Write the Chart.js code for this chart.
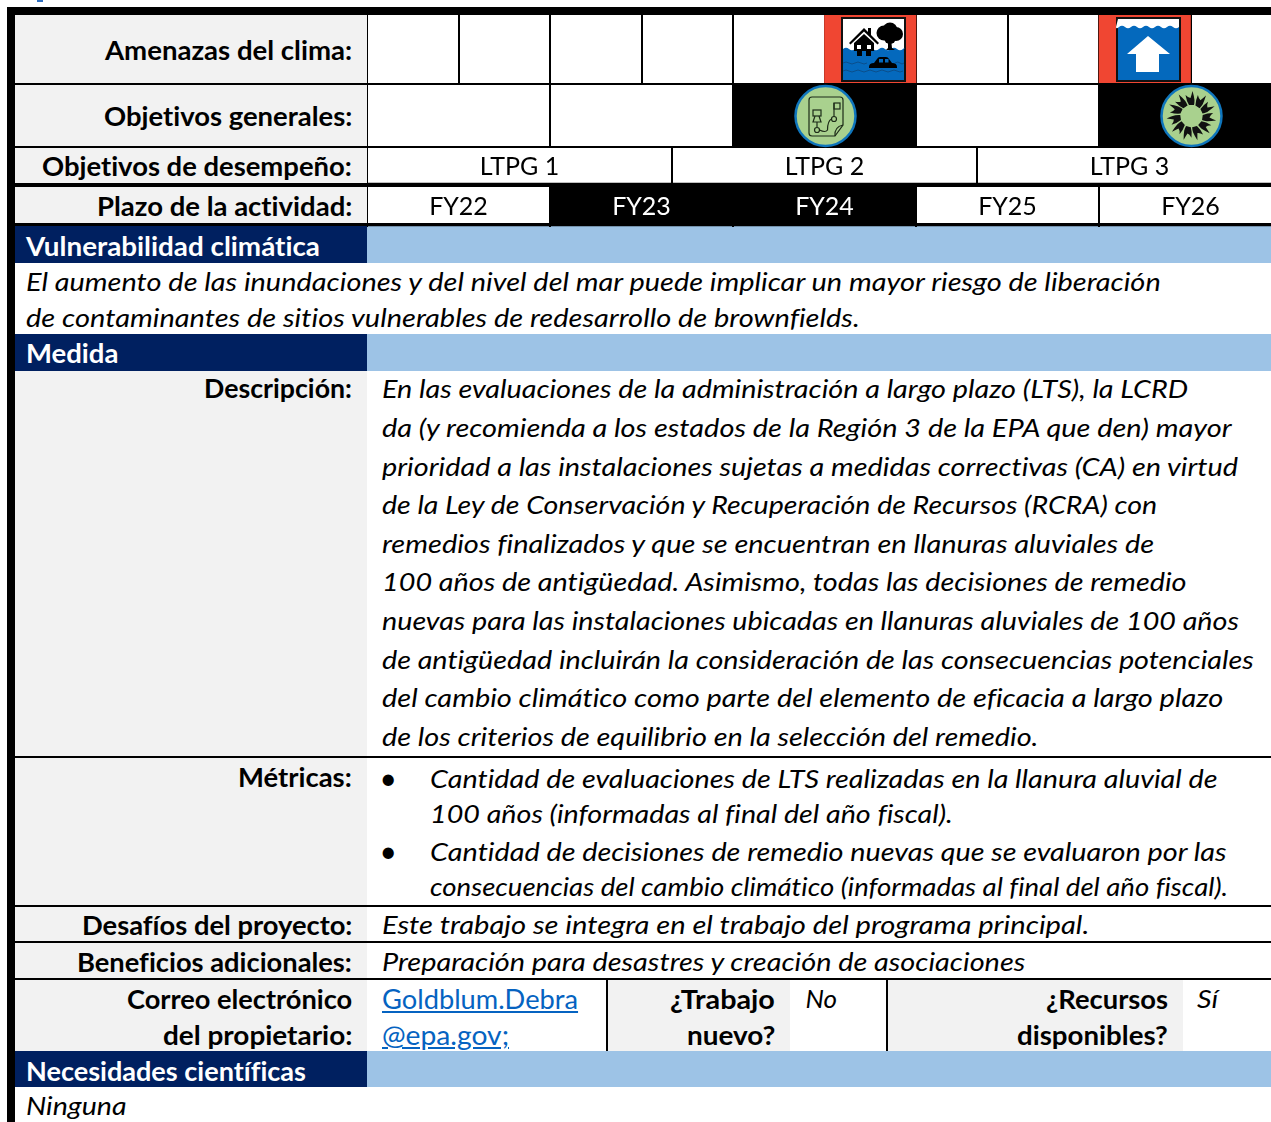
<!DOCTYPE html>
<html lang="es">
<head>
<meta charset="utf-8">
<title>Medida climática</title>
<script src="https://cdn.jsdelivr.net/npm/chart.js@4"></script>
<style>
html, body { margin: 0; padding: 0; background: #fff; }
body { position: relative; width: 1271px; height: 1122px; overflow: hidden; font-family: Lato, sans-serif; color: #000; font-variant-ligatures: none; }
.box { position: absolute; }
.k { background: #000; }
.g { background: #f2f2f2; }
.n { background: #002060; }
.s { background: #9dc3e6; }
canvas { position: absolute; left: 367px; }
.t { position: absolute; white-space: nowrap; font-size: 26px; line-height: 1; transform-origin: left center; margin-left: -0.5px; }
.b { font-weight: 700; }
.i { font-style: italic; }
.w { color: #fff; }
a { color: #0563c1; text-decoration: underline; }
svg { position: absolute; }
</style>
</head>
<body>
<div class="box" style="left:37px;top:0;width:6px;height:2px;background:#2f6fc0"></div>

<!-- label column -->
<div class="box g" style="left:15px;top:14px;width:352px;height:212px"></div>
<div class="box g" style="left:15px;top:371px;width:352px;height:680px"></div>
<div class="box g" style="left:607px;top:980px;width:183px;height:71px"></div>
<div class="box g" style="left:888px;top:980px;width:295px;height:71px"></div>

<!-- header bands -->
<div class="box s" style="left:367px;top:226px;width:904px;height:37px"></div>
<div class="box n" style="left:15px;top:226px;width:352px;height:37px"></div>
<div class="box s" style="left:367px;top:334px;width:904px;height:37px"></div>
<div class="box n" style="left:15px;top:334px;width:352px;height:37px"></div>
<div class="box s" style="left:367px;top:1051px;width:904px;height:36px"></div>
<div class="box n" style="left:15px;top:1051px;width:352px;height:36px"></div>

<!-- schedule rows, one chart each -->
<canvas id="threatChart" width="915" height="69" style="top:15px"></canvas>
<canvas id="goalChart" width="915" height="62" style="top:85px"></canvas>
<canvas id="ltpgChart" width="915" height="36" style="top:147px"></canvas>
<canvas id="fyChart" width="915" height="40" style="top:187px"></canvas>

<!-- rules -->
<div class="box k" style="left:7px;top:7px;width:1264px;height:8px"></div>
<div class="box k" style="left:7px;top:7px;width:8px;height:1115px"></div>
<div class="box k" style="left:15px;top:83px;width:1256px;height:2px"></div>
<div class="box k" style="left:15px;top:146px;width:1256px;height:2px"></div>
<div class="box k" style="left:15px;top:183px;width:1256px;height:4px"></div>
<div class="box k" style="left:15px;top:223px;width:1256px;height:3px"></div>
<div class="box k" style="left:15px;top:756px;width:1256px;height:2px"></div>
<div class="box k" style="left:15px;top:905px;width:1256px;height:2px"></div>
<div class="box k" style="left:15px;top:941px;width:1256px;height:2px"></div>
<div class="box k" style="left:15px;top:978px;width:1256px;height:2px"></div>
<div class="box k" style="left:606px;top:980px;width:2px;height:71px"></div>
<div class="box k" style="left:886px;top:980px;width:2px;height:71px"></div>

<!-- flood icon -->
<svg style="left:841px;top:17px" width="65" height="65" viewBox="0 0 65 65">
  <rect x="1" y="1" width="63" height="63" fill="#fff" stroke="#111" stroke-width="2"/>
  <path d="M2 32q3-2.500 6 0t6 0 6 0 6 0 6 0 6 0 6 0 6 0 6 0 6 0 1 0V63H2Z" fill="#0469bd"/>
  <path d="M2 46q3-2 6 0t6 0 6 0 6 0M54 46q3-2 5 0t4 0M2 54q3-2 6 0t6 0 6 0 6 0 6 0 6 0 6 0 6 0 6 0 6 0" fill="none" stroke="#0a4f8c" stroke-width="1"/>
  <path d="M8 26 23 11l4 4v-4h3v7l8 8-1.500 1.500L23 14.500 9.500 27.500Z" fill="#000"/>
  <path d="M13 26 23 17l10 9v8h-3v5h-5v-5h-4v5h-5v-5h-3Z" fill="#000"/>
  <rect x="16" y="28" width="4" height="4" fill="#fff"/><rect x="26" y="28" width="4" height="4" fill="#fff"/>
  <circle cx="43" cy="16" r="7.500" fill="#000"/><circle cx="55" cy="17" r="7" fill="#000"/><circle cx="49" cy="13" r="7.500" fill="#000"/><circle cx="49" cy="21" r="6" fill="#000"/>
  <path d="M47 22h3l1 9 3 2h-9l2-2Z" fill="#000"/>
  <path d="M28 50q0-4 5-4l3-4q1-2 3-2h6q2 0 3 2l3 4q5 0 5 4v1H28Z" fill="#000"/>
  <rect x="38" y="42" width="4" height="3.500" fill="#0469bd"/><rect x="44" y="42" width="3.500" height="3.500" fill="#0469bd"/>
</svg>

<!-- sea level icon -->
<svg style="left:1116px;top:17px" width="65" height="65" viewBox="0 0 65 65">
  <rect x="1" y="1" width="63" height="63" fill="#0469bd" stroke="#111" stroke-width="2"/>
  <path d="M2 2H63V10q-3 2.500-6 0t-6 0-6 0-6 0-6 0-6 0-6 0-6 0-6 0-6 0-3 0Z" fill="#fff"/>
  <path d="M32 19 54 37H43V55H20V37H11Z" fill="#fff"/>
</svg>

<!-- goal icons -->
<svg style="left:794px;top:84px" width="63" height="64" viewBox="0 0 63 64">
  <circle cx="31.500" cy="32" r="30" fill="#a9d18e" stroke="#0f75bc" stroke-width="2.500"/>
  <g fill="none" stroke="#1d2b18" stroke-width="1.200">
    <path d="M18 13H46q3 0 3 3V41L41 52H18q-3 0-3-3V16q0-3 3-3Z"/>
    <path d="M41 52q-1-9 8-11"/>
    <rect x="19" y="26" width="8" height="6"/>
    <path d="M21 32 19 38H27L25 32M23 38V43"/>
    <circle cx="23" cy="46" r="2.500"/>
    <path d="M25.500 46q6 3 8 0 0-9 4-11"/>
    <circle cx="40" cy="35" r="2.500"/>
    <path d="M40 32.500V19"/>
    <rect x="40" y="19" width="6" height="6"/>
  </g>
</svg>
<svg style="left:1160px;top:84px" width="63" height="64" viewBox="0 0 63 64">
  <circle cx="31.500" cy="32" r="30" fill="#a9d18e" stroke="#0f75bc" stroke-width="2.500"/>
  <g fill="#111" transform="translate(31.500 32)">
    <path id="fl" d="M-2.500-11Q-5-15-6-21-3-18-1-18 0-21 1-25 2.500-20 3-16 3-13 2.500-11Z"/>
    <use href="#fl" transform="rotate(33)"/><use href="#fl" transform="rotate(65)"/><use href="#fl" transform="rotate(98)"/><use href="#fl" transform="rotate(131)"/><use href="#fl" transform="rotate(164)"/><use href="#fl" transform="rotate(196)"/><use href="#fl" transform="rotate(229)"/><use href="#fl" transform="rotate(262)"/><use href="#fl" transform="rotate(295)"/><use href="#fl" transform="rotate(327)"/>
  </g>
  <circle cx="31.500" cy="32" r="10.500" fill="#a9d18e"/>
</svg>

<!-- text -->
<div class="t b" style="left:105px;top:50px" data-w="247">Amenazas del clima:</div>
<div class="t b" style="left:104px;top:116px" data-w="248">Objetivos generales:</div>
<div class="t b" style="left:42px;top:166px" data-w="310">Objetivos de desempeño:</div>
<div class="t b" style="left:97px;top:206px" data-w="255">Plazo de la actividad:</div>
<div class="t b w" style="left:26px;top:246px" data-w="294">Vulnerabilidad climática</div>
<div class="t i" style="left:26px;top:282px" data-w="1135">El aumento de las inundaciones y del nivel del mar puede implicar un mayor riesgo de liberación</div>
<div class="t i" style="left:26px;top:318px" data-w="834">de contaminantes de sitios vulnerables de redesarrollo de brownfields.</div>
<div class="t b w" style="left:26px;top:353px" data-w="92">Medida</div>
<div class="t b" style="left:204px;top:388px" data-w="148">Descripción:</div>
<div class="t i" style="left:382px;top:389px" data-w="806">En las evaluaciones de la administración a largo plazo (LTS), la LCRD</div>
<div class="t i" style="left:382px;top:428px" data-w="850">da (y recomienda a los estados de la Región 3 de la EPA que den) mayor</div>
<div class="t i" style="left:382px;top:467px" data-w="856">prioridad a las instalaciones sujetas a medidas correctivas (CA) en virtud</div>
<div class="t i" style="left:382px;top:505px" data-w="775">de la Ley de Conservación y Recuperación de Recursos (RCRA) con</div>
<div class="t i" style="left:382px;top:544px" data-w="772">remedios finalizados y que se encuentran en llanuras aluviales de</div>
<div class="t i" style="left:382px;top:582px" data-w="804">100 años de antigüedad. Asimismo, todas las decisiones de remedio</div>
<div class="t i" style="left:382px;top:621px" data-w="857">nuevas para las instalaciones ubicadas en llanuras aluviales de 100 años</div>
<div class="t i" style="left:382px;top:660px" data-w="872">de antigüedad incluirán la consideración de las consecuencias potenciales</div>
<div class="t i" style="left:382px;top:698px" data-w="841">del cambio climático como parte del elemento de eficacia a largo plazo</div>
<div class="t i" style="left:382px;top:737px" data-w="656">de los criterios de equilibrio en la selección del remedio.</div>
<div class="t b" style="left:238px;top:777px" data-w="114">Métricas:</div>
<div class="t i" style="left:380px;top:778px;font-size:30px;font-style:normal">•</div>
<div class="t i" style="left:430px;top:779px" data-w="788">Cantidad de evaluaciones de LTS realizadas en la llanura aluvial de</div>
<div class="t i" style="left:430px;top:814px" data-w="523">100 años (informadas al final del año fiscal).</div>
<div class="t i" style="left:380px;top:851px;font-size:30px;font-style:normal">•</div>
<div class="t i" style="left:430px;top:852px" data-w="797">Cantidad de decisiones de remedio nuevas que se evaluaron por las</div>
<div class="t i" style="left:430px;top:887px" data-w="798">consecuencias del cambio climático (informadas al final del año fiscal).</div>
<div class="t b" style="left:82px;top:925px" data-w="270">Desafíos del proyecto:</div>
<div class="t i" style="left:382px;top:925px" data-w="707">Este trabajo se integra en el trabajo del programa principal.</div>
<div class="t b" style="left:77px;top:962px" data-w="275">Beneficios adicionales:</div>
<div class="t i" style="left:382px;top:962px" data-w="643">Preparación para desastres y creación de asociaciones</div>
<div class="t b" style="left:127px;top:999px" data-w="225">Correo electrónico</div>
<div class="t b" style="left:163px;top:1035px" data-w="189">del propietario:</div>
<div class="t" style="left:382px;top:999px" data-w="196"><a href="#">Goldblum.Debra</a></div>
<div class="t" style="left:382px;top:1035px" data-w="127"><a href="#">@epa.gov;</a></div>
<div class="t b" style="left:670px;top:999px" data-w="105">¿Trabajo</div>
<div class="t b" style="left:687px;top:1035px" data-w="88">nuevo?</div>
<div class="t i" style="left:806px;top:999px" data-w="32">No</div>
<div class="t b" style="left:1046px;top:999px" data-w="122">¿Recursos</div>
<div class="t b" style="left:1017px;top:1035px" data-w="151">disponibles?</div>
<div class="t i" style="left:1197px;top:999px" data-w="21">Sí</div>
<div class="t b w" style="left:26px;top:1071px" data-w="280">Necesidades científicas</div>
<div class="t i" style="left:26px;top:1106px" data-w="100">Ninguna</div>

<script>
const threatCells = ['', '', '', '', '', 'Inundaciones', '', '', 'Nivel del mar', ''];
const threatValues = [0, 0, 0, 0, 0, 1, 0, 0, 1, 0];
const goalCells = ['', '', 'Meta A', '', 'Meta B'];
const goalValues = [0, 0, 1, 0, 1];
const ltpgLabels = ['LTPG 1', 'LTPG 2', 'LTPG 3'];
const ltpgValues = [0, 0, 0];
const fyLabels = ['FY22', 'FY23', 'FY24', 'FY25', 'FY26'];
const fyValues = [0, 1, 1, 0, 0];

// prints the category name in the middle of its cell
const cellLabels = {
    id: 'cellLabels',
    afterDatasetsDraw(chart, args, opts) {
        if (!opts.show) return;
        const ctx = chart.ctx;
        const x = chart.scales.x;
        const values = chart.data.datasets[0].data;
        ctx.save();
        ctx.font = '25px Lato';
        ctx.textAlign = 'center';
        ctx.textBaseline = 'middle';
        chart.data.labels.forEach((label, i) => {
            ctx.fillStyle = values[i] ? '#fff' : '#000';
            ctx.fillText(label, x.getPixelForValue(i), opts.middle);
        });
        ctx.restore();
    }
};

function createRow(id, labels, values, color, labelOpts, yMin) {
    new Chart(document.getElementById(id), {
        type: 'bar',
        data: {
            labels: labels,
            datasets: [{
                data: values,
                backgroundColor: color,
                barPercentage: 1,
                categoryPercentage: 1
            }]
        },
        options: {
            responsive: false,
            animation: false,
            events: [],
            layout: { padding: 0 },
            plugins: {
                legend: { display: false },
                tooltip: { enabled: false },
                cellLabels: labelOpts
            },
            scales: {
                x: {
                    grid: { color: '#000', lineWidth: 2, drawTicks: false, tickLength: 0 },
                    border: { display: false },
                    ticks: { display: false }
                },
                y: { display: false, min: yMin, max: 1 }
            }
        },
        plugins: [cellLabels]
    });
}

createRow('threatChart', threatCells, threatValues, '#f04632', { show: false }, 0);
createRow('goalChart', goalCells, goalValues, '#000', { show: false }, 0);
createRow('ltpgChart', ltpgLabels, ltpgValues, '#000', { show: true, middle: 19.5 }, 0);
createRow('fyChart', fyLabels, fyValues, '#000', { show: true, middle: 19.5 }, -0.025);

// squeeze each line to the width it has in the picture
document.querySelectorAll('.t').forEach(el => {
    const w = parseFloat(el.dataset.w);
    const sx = w ? w / el.offsetWidth : 1;
    const up = el.classList.contains('i') ? 1 : 0;
    el.style.transform = 'translateY(calc(-50% - ' + up + 'px)) scaleX(' + sx + ')';
});
</script>
</body>
</html>
